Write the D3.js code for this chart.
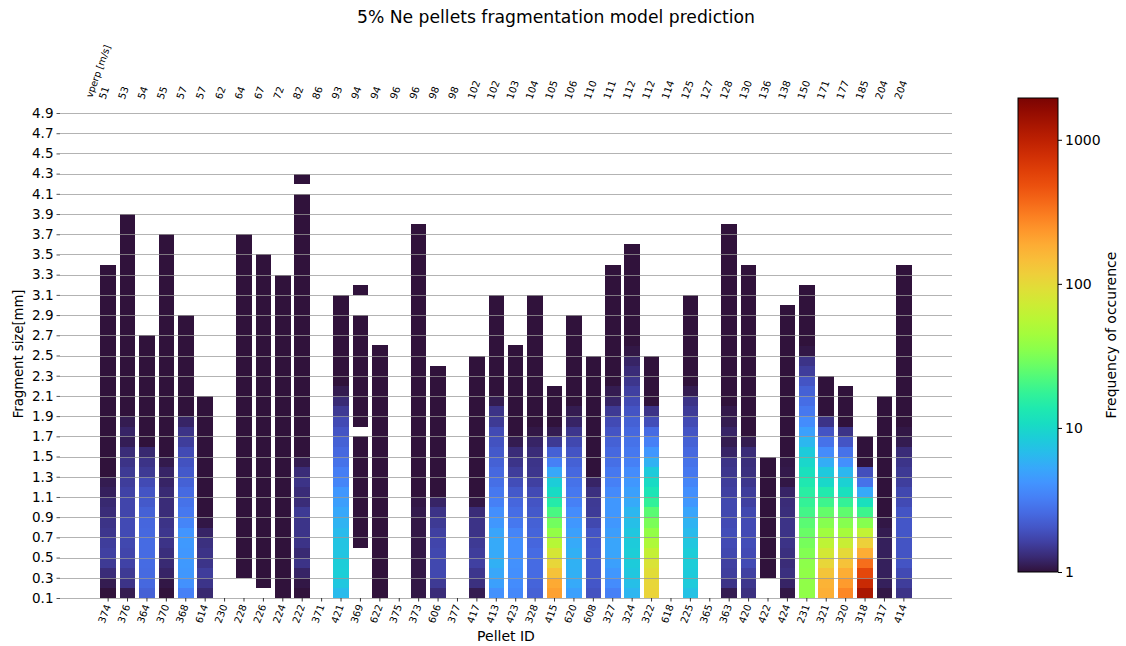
<!DOCTYPE html>
<html><head><meta charset="utf-8">
<script src="https://cdn.jsdelivr.net/npm/d3@7"></script>
<style>
body{margin:0;background:#fff;}
text{font-family:"DejaVu Sans",sans-serif;fill:#000;}
</style></head>
<body>
<script>
// ---------------- data ----------------
const pellets = ["374","376","364","370","368","614","230","228","226","224","222","371","421","369","622","375","373","606","377","417","413","423","328","415","620","608","327","324","322","618","225","365","363","420","422","424","231","321","320","318","317","414"];
const vperp = ["51","53","54","55","57","57","62","64","67","72","82","86","93","94","94","96","96","98","98","102","102","103","104","105","106","110","111","112","112","114","125","127","128","130","136","138","150","171","177","185","204","204"];
const vperpLabel = "vperp [m/s]";
const yTicks = [0.1,0.3,0.5,0.7,0.9,1.1,1.3,1.5,1.7,1.9,2.1,2.3,2.5,2.7,2.9,3.1,3.3,3.5,3.7,3.9,4.1,4.3,4.5,4.7,4.9];
const cbTicks = [1,10,100,1000];
const binStart = 0.1, binSize = 0.1;
// frequency of occurrence per 0.1 mm size bin (from 0.1 mm upward), one list per pellet; 0 = no fragment
const freqByPellet = [
/*374*/[1.0,1.1,1.3,1.5,1.6,1.55,1.45,1.4,1.3,1.25,1.15,1.1,
 1,1,1,1,1,1,1,1,1,1, 1,1,1,1,1,1,1,1,1,1, 1],
/*376*/[1.1,1.4,1.5,1.65,1.7,1.75,1.8,1.8,1.7,1.7,1.65,1.55,1.5,1.4,1.3,1.12,1.2,1.1,
 1,1,1,1,1,1,1,1,1,1, 1,1,1,1,1,1,1,1,1,1],
/*364*/[2.3,2.5,2.55,2.6,2.6,2.6,2.5,2.45,2.3,2.1,2.0,1.8,1.5,1.4,1.25,
 1,1,1,1,1,1,1,1,1,1, 1],
/*370*/[1,1.05,1.2,1.27,1.33,1.4,1.45,1.4,1.3,1.3,1.27,1.2,1.2,1.08,
 1,1,1,1,1,1,1,1,1,1, 1,1,1,1,1,1,1,1,1,1, 1,1],
/*368*/[3.3,4.0,4.3,4.4,4.3,4.4,4.2,3.5,3.0,2.8,2.55,2.3,2.1,1.95,1.8,1.55,1.4,1.2,
 1,1,1,1,1,1,1,1,1,1],
/*614*/[1.25,1.42,1.55,1.42,1.4,1.35,1.2,1.05,
 1,1,1,1,1,1,1,1,1,1, 1,1],
/*230*/[],
/*228*/[0,0,
 1,1,1,1,1,1,1,1,1,1, 1,1,1,1,1,1,1,1,1,1, 1,1,1,1,1,1,1,1,1,1, 1,1,1,1],
/*226*/[0,
 1,1,1,1,1,1,1,1,1,1, 1,1,1,1,1,1,1,1,1,1, 1,1,1,1,1,1,1,1,1,1, 1,1,1],
/*224*/[1,1,1,1,1,1,1,1,1,1, 1,1,1,1,1,1,1,1,1,1, 1,1,1,1,1,1,1,1,1,1, 1,1],
/*222*/[1,1.05,1.2,1.4,1.27,1.4,1.42,1.42,1.5,1.3,1.3,1.4,1.3,1.1,
 1,1,1,1,1,1,1,1,1,1, 1,1,1,1,1,1,1,1,1,1, 1,1,1,1,1,1, 0,1],
/*371*/[],
/*421*/[6.6,7.8,8.6,8.5,7.6,7.5,6.6,6.0,5.3,4.7,4.3,3.5,3.2,2.8,2.5,2.3,2.0,1.8,1.5,1.28,1.1,
 1,1,1,1,1,1,1,1,1],
/*369*/[0,0,0,0,0,
 1,1,1,1,1,1,1,1,1,1, 1, 0,
 1,1,1,1,1,1,1,1,1,1, 1, 0,0, 1],
/*622*/[1,1,1,1,1,1,1,1,1,1, 1,1,1,1,1,1,1,1,1,1, 1,1,1,1,1],
/*375*/[],
/*373*/[1.05,1.05,1.05,1.05,1.05,1.05,1.05,1.05,1.08,1.05,
 1,1,1,1,1,1,1,1,1,1, 1,1,1,1,1,1,1,1,1,1, 1,1,1,1,1,1,1],
/*606*/[1.3,1.5,1.75,1.75,1.75,1.7,1.6,1.5,1.4,1.2,
 1,1,1,1,1,1,1,1,1,1, 1,1,1],
/*377*/[],
/*417*/[1.1,1.35,1.45,1.6,1.55,1.5,1.4,1.4,1.3,1.05,
 1,1,1,1,1,1,1,1,1,1, 1,1,1,1],
/*413*/[4.0,4.8,5.2,5.8,5.4,5.4,5.1,4.3,3.9,3.3,3.0,2.7,2.5,2.3,2.1,1.95,1.8,1.5,1.4,1.1,
 1,1,1,1,1,1,1,1,1,1],
/*423*/[3.6,3.8,3.9,4.0,3.9,3.9,3.5,3.0,2.65,2.45,2.1,1.85,1.55,1.42,1.3,1.1,
 1,1,1,1,1,1,1,1,1],
/*328*/[2.3,2.4,2.6,2.6,2.6,2.45,2.4,2.3,2.1,2.0,1.8,1.6,1.45,1.42,1.3,1.2,1.05,
 1,1,1,1,1,1,1,1,1,1, 1,1,1],
/*415*/[210,190,140,105,80,55,38,29,21,14.5,10.5,8.5,5.3,3.3,2.3,1.5,1.1,
 1,1,1,1],
/*620*/[4.8,5.4,5.8,5.9,5.8,5.4,4.8,4.3,3.8,3.3,3.0,2.8,2.5,2.3,2.0,1.75,1.45,1.2,1.1,
 1,1,1,1,1,1,1,1,1],
/*608*/[1.95,2.05,2.1,2.1,2.1,2.05,2.0,1.75,1.52,1.5,1.35,1.2,
 1,1,1,1,1,1,1,1,1,1, 1,1],
/*327*/[3.3,3.8,4.3,4.8,5.1,5.1,4.7,4.3,4.3,4.3,3.7,3.3,3.0,2.7,2.5,2.3,2.0,1.8,1.5,1.2,1.1,
 1,1,1,1,1,1,1,1,1,1, 1,1],
/*324*/[6.2,7.0,7.8,8.3,8.6,8.3,7.8,7.0,6.3,5.4,4.8,4.3,3.8,3.3,3.0,2.8,2.5,2.3,2.0,1.8,1.6,1.45,1.3,1.2,1.05,
 1,1,1,1,1,1,1,1,1,1],
/*322*/[108,105,95,85,65,50,38,31,24,17,12.5,10.5,8.3,5.9,4.3,3.3,2.6,1.85,1.4,
 1,1,1,1,1],
/*618*/[],
/*225*/[7.3,8.2,8.3,8.5,8.5,7.8,6.6,6.0,5.1,4.3,3.9,3.5,3.0,2.8,2.5,2.3,2.0,1.8,1.52,1.4,1.1,
 1,1,1,1,1,1,1,1,1],
/*365*/[],
/*363*/[1.1,1.4,1.57,1.6,1.75,1.8,1.85,1.8,1.75,1.75,1.6,1.55,1.45,1.4,1.2,1.1,1.2,1.1,1.07,
 1,1,1,1,1,1,1,1,1,1, 1,1,1,1,1,1,1,1],
/*420*/[1.35,1.45,1.6,1.8,1.8,1.85,1.8,1.8,1.75,1.6,1.55,1.45,1.35,1.32,1.3,1.1,
 1,1,1,1,1,1,1,1,1,1, 1,1,1,1,1,1,1],
/*422*/[0,0,
 1,1,1,1,1,1,1,1,1,1, 1,1],
/*424*/[1.05,1.2,1.35,1.3,1.35,1.4,1.4,1.4,1.32,1.3,1.2,1.05,1.07,1.05,
 1,1,1,1,1,1,1,1,1,1, 1,1,1,1,1],
/*231*/[37,37,37,36,33,30,27,24,20,17.5,15.5,13.5,11.5,9.8,8.3,6.3,4.8,3.8,3.0,2.65,2.3,2.0,1.55,1.4,1.05,
 1,1,1,1,1,1],
/*321*/[180,170,135,105,78,60,43,34,26,19,14,10,8.0,5.6,3.8,2.8,2.0,1.4,
 1,1,1,1],
/*320*/[275,225,185,140,100,68,46,34,25,17.5,11.5,9.0,6.3,3.9,2.8,2.0,1.4,
 1,1,1,1],
/*318*/[1250,850,550,350,185,115,63,34,19,11.5,5.4,2.8,1.9,
 1,1,1],
/*317*/[1.05,1.15,1.15,1.15,1.15,1.15,1.1,1.05,
 1,1,1,1,1,1,1,1,1,1, 1,1],
/*414*/[1.4,1.55,1.8,2.0,2.0,2.0,2.05,2.05,2.0,1.8,1.75,1.57,1.5,1.42,1.3,1.1,1.05,
 1,1,1,1,1,1,1,1,1,1, 1,1,1,1,1,1]
];
const colorMax = 1950;

// matplotlib "turbo" colormap samples (index/255, colour)
const turboIdx = [0,8,16,24,32,40,48,56,64,72,80,88,96,104,112,120,128,136,144,152,160,168,176,184,192,200,208,216,224,232,240,248,255];
const turboCol = ["#30123b","#392a73","#4040a2","#4456c7","#466be3","#4680f6","#4294ff","#37a8fa","#28bceb","#1ccdd8","#18ddc2","#1fe9af","#32f298","#4ef97d","#6dfe62","#8bff4b","#a4fc3c","#b9f635","#cdec34","#dfdf37","#eecf3a","#f8be39","#fdac34","#fe962b","#fb7e21","#f46617","#eb500e","#df3f08","#d02f05","#be2102","#a91601","#920b01","#7a0403"];

// ---------------- chart ----------------
const W = 1126, H = 646;
const svg = d3.select("body").append("svg").attr("width", W).attr("height", H);

const x = d3.scaleBand().domain(d3.range(pellets.length)).range([60, 952])
  .paddingInner(0.2).paddingOuter(2.08).align(0.5);
const y = d3.scaleLinear().domain([0.1, 4.9]).range([598, 113]);

const lut = d3.scaleLinear().domain(turboIdx.map(d => d / 255)).range(turboCol)
  .interpolate(d3.interpolateRgb).clamp(true);
const tScale = d3.scaleLog().domain([1, colorMax]).range([0, 1]).clamp(true);
const color = v => lut(tScale(v));

// cells
const cells = [];
freqByPellet.forEach((arr, i) => arr.forEach((v, k) => {
  if (v > 0) cells.push({i, lo: binStart + k * binSize, hi: binStart + (k + 1) * binSize, v});
}));
svg.append("g").selectAll("rect").data(cells).join("rect")
  .attr("x", d => x(d.i))
  .attr("width", x.bandwidth())
  .attr("y", d => y(d.hi))
  .attr("height", d => y(d.lo) - y(d.hi) + 0.3)
  .attr("fill", d => color(d.v))
  .attr("shape-rendering", "crispEdges");

// horizontal grid (on top of the cells)
svg.append("g").selectAll("line").data(yTicks).join("line")
  .attr("x1", 60).attr("x2", 952)
  .attr("y1", d => Math.round(y(d)) + 0.5).attr("y2", d => Math.round(y(d)) + 0.5)
  .attr("stroke", "#9a9a9a").attr("stroke-opacity", 0.75).attr("stroke-width", 1);

// left axis
const ya = svg.append("g").attr("transform", "translate(60,0)")
  .call(d3.axisLeft(y).tickValues(yTicks).tickFormat(d3.format(".1f")).tickSize(3.5).tickPadding(3));
ya.select(".domain").remove();
ya.selectAll(".tick line").attr("stroke", "#555");
ya.selectAll(".tick text").attr("font-size", "13.5px").attr("font-family", "DejaVu Sans");

// bottom axis
const xa = svg.append("g").attr("transform", "translate(0,598)")
  .call(d3.axisBottom(x).tickFormat(i => pellets[i]).tickSize(3.5).tickPadding(2));
xa.select(".domain").remove();
xa.selectAll(".tick line").attr("stroke", "#333");
xa.selectAll(".tick text")
  .attr("font-size", "10px").attr("font-family", "DejaVu Sans")
  .attr("text-anchor", "end").attr("dy", null).attr("y", 0).attr("x", 0)
  .attr("transform", "translate(3,8) rotate(-70)");

// top labels (perpendicular velocity)
const topG = svg.append("g");
vperp.forEach((v, i) => {
  const cx = x(i) + x.bandwidth() / 2;
  const g = topG.append("g").attr("transform", `translate(${cx - 3},100) rotate(-70)`);
  g.append("text").attr("font-size", "10px").text(v);
  if (i === 0) g.append("text").attr("font-size", "9.5px").attr("x", -3).attr("y", -13).text(vperpLabel);
});

// titles
svg.append("text").attr("x", 556).attr("y", 23).attr("text-anchor", "middle")
  .attr("font-size", "17.2px").text("5% Ne pellets fragmentation model prediction");
svg.append("text").attr("x", 506).attr("y", 641).attr("text-anchor", "middle")
  .attr("font-size", "14px").text("Pellet ID");
svg.append("text").attr("transform", "translate(23,354) rotate(-90)").attr("text-anchor", "middle")
  .attr("font-size", "13.2px").text("Fragment size[mm]");

// colorbar
const cbX = 1018, cbW = 40, cbTop = 98, cbBot = 572;
const defs = svg.append("defs");
const grad = defs.append("linearGradient").attr("id", "cbg")
  .attr("x1", 0).attr("y1", 1).attr("x2", 0).attr("y2", 0);
turboIdx.forEach((d, j) => grad.append("stop").attr("offset", d / 255).attr("stop-color", turboCol[j]));
svg.append("rect").attr("x", cbX).attr("y", cbTop).attr("width", cbW).attr("height", cbBot - cbTop)
  .attr("fill", "url(#cbg)").attr("stroke", "#000").attr("stroke-width", 1);
const cy = d3.scaleLog().domain([1, colorMax]).range([cbBot, cbTop]);
const ca = svg.append("g").attr("transform", `translate(${cbX + cbW},0)`)
  .call(d3.axisRight(cy).tickValues(cbTicks).tickFormat(d3.format("d")).tickSize(4).tickPadding(3));
ca.select(".domain").remove();
ca.selectAll(".tick text").attr("font-size", "14px").attr("font-family", "DejaVu Sans");
svg.append("text").attr("transform", "translate(1116,335) rotate(-90)").attr("text-anchor", "middle")
  .attr("font-size", "14px").text("Frequency of occurence");
</script>
</body></html>
